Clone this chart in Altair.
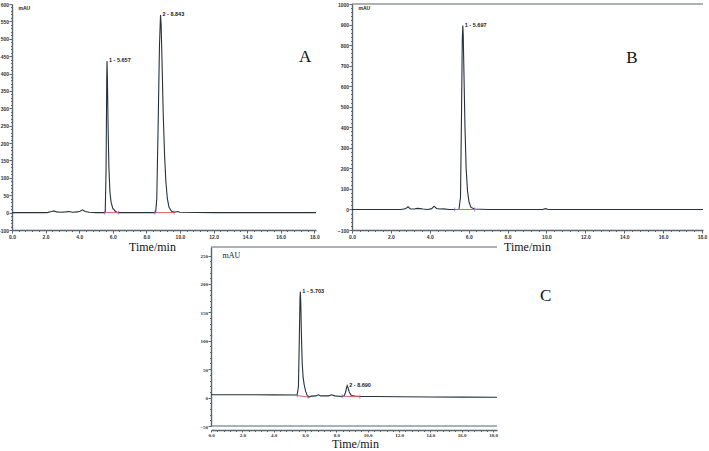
import altair as alt
import pandas as pd

# ---------------- Panel A ----------------
A_t = [0.0, 2.1, 2.35, 2.5, 2.65, 2.9, 3.2, 3.4, 3.6, 3.9, 4.05, 4.2, 4.35, 4.6, 5.0, 5.5,
       5.55, 5.6, 5.64, 5.657, 5.68, 5.72, 5.77, 5.83, 5.9, 6.0, 6.15, 6.3, 7.5, 8.5,
       8.55, 8.62, 8.7, 8.78, 8.843, 8.88, 8.94, 9.0, 9.08, 9.16, 9.25, 9.35, 9.5, 9.7,
       9.85, 10.0, 12.0, 18.1]
A_v = [0, 0, 3, 5, 2, 1, 2, 3, 1, 2, 4, 8, 3, 1, 0, 0,
       0, 120, 380, 435, 390, 250, 130, 60, 30, 12, 4, 0, 0, 0,
       0, 40, 250, 480, 568, 540, 420, 290, 170, 90, 40, 15, 4, 1,
       3, 1, 0, 0]
A_seg_t1 = [5.5, 8.5]
A_seg_t2 = [6.35, 9.65]
A_seg_v1 = [0, 0]
A_seg_v2 = [0, 0]
A_lab_t = [5.657, 8.843]
A_lab_v = [435, 568]
A_lab_s = ["1 - 5.657", "2 - 8.843"]

# ---------------- Panel B ----------------
B_t = [0.0, 2.5, 2.75, 2.88, 3.0, 3.2, 3.35, 3.5, 3.65, 3.9, 4.1, 4.22, 4.35, 4.5, 4.7, 5.0,
       5.5, 5.58, 5.63, 5.67, 5.697, 5.72, 5.76, 5.81, 5.87, 5.94, 6.02, 6.12, 6.3, 7.0,
       9.8, 9.95, 10.1, 18.05]
B_v = [0, 0, 3, 13, 3, 2, 5, 4, 2, 0, 4, 16, 5, 2, 3, 0,
       0, 60, 450, 820, 895, 850, 650, 400, 200, 90, 35, 10, 2, 0,
       0, 4, 0, 0]
B_seg_t1 = [5.28]
B_seg_t2 = [6.31]
B_seg_v1 = [0]
B_seg_v2 = [0]
B_lab_t = [5.697]
B_lab_v = [895]
B_lab_s = ["1 - 5.697"]

# ---------------- Panel C ----------------
C_t = [0.0, 2.0, 4.0, 5.5, 5.58, 5.64, 5.68, 5.703, 5.73, 5.77, 5.82, 5.88, 5.95, 6.05,
       6.15, 6.25, 6.4, 6.7, 6.85, 7.0, 7.5, 7.7, 7.9, 8.3, 8.5, 8.58, 8.65, 8.69, 8.74,
       8.82, 8.92, 9.05, 9.2, 9.5, 10.5, 12.0, 14.0, 16.0, 18.25]
C_v = [5, 5, 4.8, 4.5, 20, 110, 175, 186, 165, 110, 60, 35, 22, 10,
       3, 1, 2.5, 3, 5, 3, 3, 5, 3, 2, 3, 9, 17, 21, 18,
       10, 5, 3, 2.5, 2, 1.8, 1.5, 1, 0.8, 0.5]
C_seg_t1 = [5.5, 8.37]
C_seg_t2 = [6.2, 9.5]
C_seg_v1 = [3.5, 2.5]
C_seg_v2 = [1.0, 1.5]
C_lab_t = [5.703, 8.69]
C_lab_v = [186, 21]
C_lab_s = ["1 - 5.703", "2 - 8.690"]

LINE = "#27323d"
AXC = "#5a6570"


def ticks(lo, hi, step):
    n = int(round((hi - lo) / step))
    return [round(lo + i * step, 3) for i in range(n + 1)]


def panel(t, v, s_t1, s_t2, s_v1, s_v2, l_t, l_v, l_s, letter, letter_t, letter_v,
          xdom, xrng, ydom, yrng, xoff, yoff, xmajor, xminor, ymajor, yminor, ylo,
          title_x, title_y, title_size, title_base, mau_x, mau_y, mau_font, mau_size, lab_font,
          top_line, bottom_line, neg_label=None, xtick=3, xpad=1):
    xs = alt.Scale(domain=xdom, range=xrng, nice=False, zero=False)
    ys = alt.Scale(domain=ydom, range=yrng, nice=False, zero=False)
    xtest = f"abs(datum.value/{xmajor} - round(datum.value/{xmajor})) < 0.001"
    ytest = f"abs(datum.value/{ymajor} - round(datum.value/{ymajor})) < 0.001"
    if neg_label is not None:
        ylab = f"({ytest}) ? (datum.value == {ylo} ? '{neg_label}' : format(datum.value, 'd')) : ''"
    else:
        ylab = f"({ytest}) ? format(datum.value, 'd') : ''"
    xaxis = alt.Axis(
        orient="bottom", offset=xoff, values=ticks(0, 18, xminor),
        labelExpr=f"({xtest}) ? format(datum.value, '.1f') : ''",
        tickSize={"condition": {"test": xtest, "value": xtick}, "value": 1.5},
        tickColor=AXC, tickWidth=1, domainColor=AXC, domainWidth=1.4,
        labelFont=lab_font, labelFontSize=5, labelFontWeight="bold", labelColor="#333",
        labelPadding=xpad, labelFlush=False, labelOverlap=False, grid=False,
        title="Time/min", titleFont="Liberation Serif", titleFontSize=title_size,
        titleFontWeight="normal", titleColor="#111", titleX=title_x, titleY=title_y,
        titleBaseline=title_base)
    yaxis = alt.Axis(
        orient="left", offset=yoff, values=ticks(ylo, ymajor * int(ydom[1] // ymajor), yminor),
        labelExpr=ylab,
        tickSize={"condition": {"test": ytest, "value": 3}, "value": 1.5},
        tickColor=AXC, tickWidth=1, domainColor=AXC, domainWidth=1.4,
        labelFont=lab_font, labelFontSize=5, labelFontWeight="bold", labelColor="#333",
        labelPadding=0.5, labelOverlap=False, grid=False,
        title="mAU", titleAngle=0, titleX=mau_x, titleY=mau_y, titleAlign="left",
        titleBaseline="middle", titleFont=mau_font, titleFontSize=mau_size,
        titleFontWeight="normal" if mau_font.endswith("Serif") else "bold", titleColor="#222")

    df = pd.DataFrame({"t": t, "v": v})
    line = alt.Chart(df).mark_line(color=LINE, strokeWidth=1.1).encode(
        x=alt.X("t:Q", scale=xs, axis=xaxis),
        y=alt.Y("v:Q", scale=ys, axis=yaxis),
    )
    sdf = pd.DataFrame({"t1": s_t1, "t2": s_t2, "v1": s_v1, "v2": s_v2})
    segs = alt.Chart(sdf).mark_rule(color="#e06060", strokeWidth=1).encode(
        x=alt.X("t1:Q", scale=xs, axis=None), x2="t2:Q",
        y=alt.Y("v1:Q", scale=ys, axis=None), y2="v2:Q",
    )
    ends = pd.DataFrame({"t": s_t1 + s_t2, "v": s_v1 + s_v2})
    endm = alt.Chart(ends).mark_tick(color="#6a6ad8", orient="vertical", size=4, thickness=1).encode(
        x=alt.X("t:Q", scale=xs, axis=None),
        y=alt.Y("v:Q", scale=ys, axis=None),
    )
    ldf = pd.DataFrame({"t": l_t, "v": l_v, "s": l_s})
    labs = alt.Chart(ldf).mark_text(font="Liberation Sans", fontSize=5.5, fontWeight="bold",
                                    color="#222", align="left", baseline="middle", dx=2, dy=-1).encode(
        x=alt.X("t:Q", scale=xs, axis=None),
        y=alt.Y("v:Q", scale=ys, axis=None),
        text="s:N",
    )
    pdf = pd.DataFrame({"t": [letter_t], "v": [letter_v], "s": [letter]})
    let = alt.Chart(pdf).mark_text(font="Liberation Serif", fontSize=17, color="#111",
                                   align="center", baseline="middle").encode(
        x=alt.X("t:Q", scale=xs, axis=None),
        y=alt.Y("v:Q", scale=ys, axis=None),
        text="s:N",
    )
    layers = [line, segs, endm, labs, let]
    frame_rows = []
    if top_line:
        frame_rows.append(ydom[1])
    if bottom_line:
        frame_rows.append(ydom[0])
    if frame_rows:
        fdf = pd.DataFrame({"t1": [xdom[0]] * len(frame_rows), "t2": [xdom[1]] * len(frame_rows),
                            "v": frame_rows})
        frame = alt.Chart(fdf).mark_rule(color=AXC, strokeWidth=1.2).encode(
            x=alt.X("t1:Q", scale=xs, axis=None), x2="t2:Q",
            y=alt.Y("v:Q", scale=ys, axis=None),
        )
        layers.append(frame)
    return layers


pA = panel(A_t, A_v, A_seg_t1, A_seg_t2, A_seg_v1, A_seg_v2, A_lab_t, A_lab_v, A_lab_s,
           "A", 17.45, 448,
           xdom=[0, 18.1], xrng=[12, 316], ydom=[-50, 600], yrng=[230, 4],
           xoff=230 - 451, yoff=-12, xmajor=2, xminor=0.4, ymajor=50, yminor=10, ylo=-50,
           title_x=152, title_y=16, title_size=12, title_base="middle", mau_x=6, mau_y=7,
           mau_font="Liberation Sans", mau_size=5, lab_font="Liberation Sans",
           top_line=False, bottom_line=False, neg_label="-100")

pB = panel(B_t, B_v, B_seg_t1, B_seg_t2, B_seg_v1, B_seg_v2, B_lab_t, B_lab_v, B_lab_s,
           "B", 14.4, 738,
           xdom=[0, 18.05], xrng=[352, 703], ydom=[-100, 1000], yrng=[230, 4],
           xoff=230 - 451, yoff=-352, xmajor=2, xminor=0.4, ymajor=100, yminor=20, ylo=-100,
           title_x=527, title_y=16, title_size=12, title_base="middle", mau_x=6, mau_y=7,
           mau_font="Liberation Sans", mau_size=5, lab_font="Liberation Sans",
           top_line=True, bottom_line=False)

pC = panel(C_t, C_v, C_seg_t1, C_seg_t2, C_seg_v1, C_seg_v2, C_lab_t, C_lab_v, C_lab_s,
           "C", 21.35, 178,
           xdom=[0, 18.25], xrng=[211, 497], ydom=[-50, 265], yrng=[426, 247],
           xoff=430 - 451, yoff=-211, xmajor=2, xminor=0.4, ymajor=50, yminor=10, ylo=-50,
           title_x=355, title_y=17.5, title_size=12, title_base="alphabetic", mau_x=11, mau_y=255,
           mau_font="Liberation Serif", mau_size=8, lab_font="Liberation Serif",
           top_line=True, bottom_line=True, xtick=2, xpad=0.5)

chart = alt.layer(*(pA + pB + pC)).resolve_scale(
    x="independent", y="independent"
).resolve_axis(
    x="independent", y="independent"
).properties(
    width=709, height=451,
    autosize=alt.AutoSizeParams(type="none"),
    padding=0,
    background="white",
).configure_view(strokeWidth=0)

chart.save("out.html", embed_options={"renderer": "svg", "actions": False})
